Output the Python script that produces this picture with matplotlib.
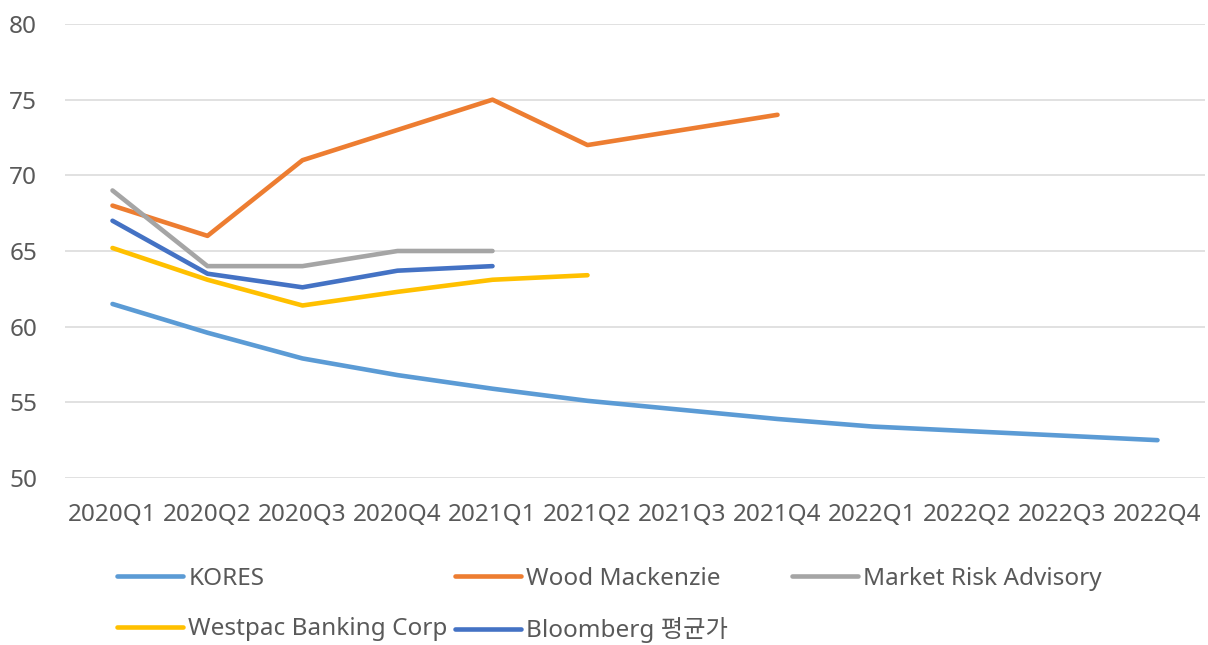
import matplotlib
matplotlib.use("Agg")
import matplotlib.pyplot as plt

plt.rcParams['font.family'] = ['Noto Sans', 'Noto Sans CJK KR', 'DejaVu Sans']

# Quarterly price outlook by source
quarters = ["2020Q1", "2020Q2", "2020Q3", "2020Q4", "2021Q1", "2021Q2",
            "2021Q3", "2021Q4", "2022Q1", "2022Q2", "2022Q3", "2022Q4"]

kores = [61.5, 59.6, 57.9, 56.8, 55.9, 55.1, 54.5, 53.9, 53.4, 53.1, 52.8, 52.5]
wood_mackenzie = [68, 66, 71, 73, 75, 72, 73, 74]
market_risk_advisory = [69, 64, 64, 65, 65]
westpac = [65.2, 63.1, 61.4, 62.3, 63.1, 63.4]
bloomberg_avg = [67.0, 63.5, 62.6, 63.7, 64.0]

series_names = ["KORES", "Wood Mackenzie", "Market Risk Advisory",
                "Westpac Banking Corp", "Bloomberg 평균가"]
series_values = [kores, wood_mackenzie, market_risk_advisory, westpac, bloomberg_avg]
series_colors = ["#5B9BD5", "#ED7D31", "#A5A5A5", "#FFC000", "#4472C4"]

y_ticks = [50, 55, 60, 65, 70, 75, 80]

TEXT = "#595959"
FS = 17.5

W, H = 1208, 645
fig = plt.figure(figsize=(W / 100, H / 100), dpi=100)
ax = fig.add_axes([65 / W, 1 - 478 / H, 1140 / W, (478 - 24) / H])

x_all = list(range(len(quarters)))
lines = {}
for name, vals, col in zip(series_names, series_values, series_colors):
    ln, = ax.plot(x_all[:len(vals)], vals, color=col, lw=3.3,
                  solid_capstyle='round', solid_joinstyle='round', zorder=3)
    lines[name] = ln

ax.set_xlim(-0.5, len(quarters) - 0.5)
ax.set_ylim(50, 80)
ax.set_yticks(y_ticks)
ax.set_yticklabels([str(v) for v in y_ticks])
ax.set_xticks(x_all)
ax.set_xticklabels(quarters)
ax.grid(axis='y', color='#D9D9D9', lw=1.1)
ax.set_axisbelow(True)
for s in ax.spines.values():
    s.set_visible(False)
ax.tick_params(axis='both', length=0, colors=TEXT, labelsize=FS)
ax.tick_params(axis='y', pad=20)
ax.tick_params(axis='x', pad=18)

# Legend laid out in fixed columns below the plot
legend_kw = dict(frameon=False, fontsize=FS, handlelength=2.72, handletextpad=0.22,
                 borderpad=0, borderaxespad=0, labelspacing=1.09, labelcolor=TEXT,
                 loc='upper left')
columns = [
    (["KORES", "Westpac Banking Corp"], 117),
    (["Wood Mackenzie", "Bloomberg 평균가"], 455),
    (["Market Risk Advisory"], 792),
]
for names, xpx in columns:
    fig.legend([lines[n] for n in names], names,
               bbox_to_anchor=(xpx / W, 1 - 567 / H), **legend_kw)

fig.savefig("out.png", dpi=100, facecolor='white')
